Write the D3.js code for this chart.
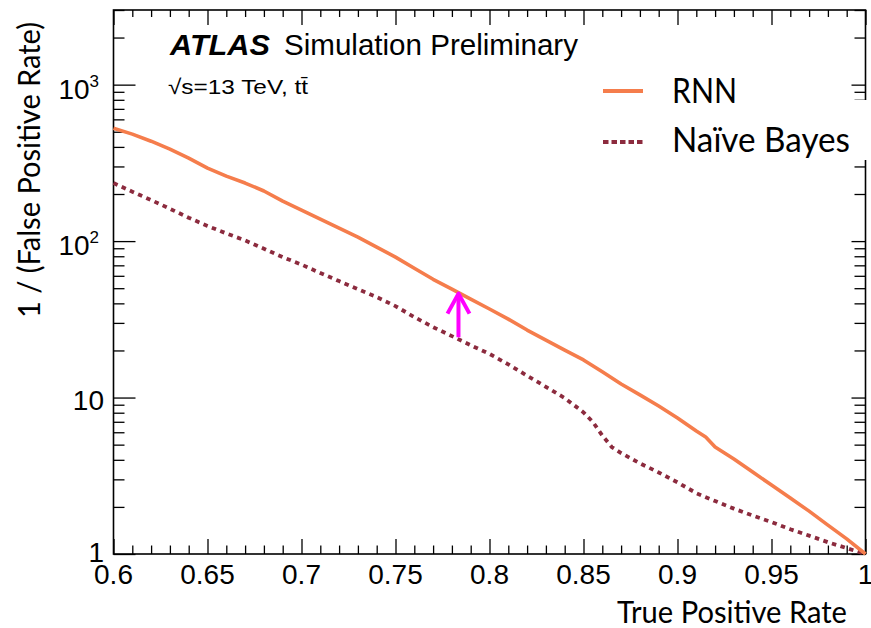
<!DOCTYPE html>
<html>
<head>
<meta charset="utf-8">
<script src="https://cdn.jsdelivr.net/npm/d3@7"></script>
<style>
  body { margin: 0; background: #fff; }
  svg { display: block; }
</style>
</head>
<body>
<svg id="chart" width="871" height="628"></svg>
<script>
// ROC-style comparison: background rejection (1 / FPR) versus signal efficiency (TPR)
const rnnTPR = [0.60, 0.61, 0.62, 0.63, 0.64, 0.65, 0.66, 0.67, 0.68, 0.69,
                0.70, 0.71, 0.72, 0.73, 0.74, 0.75, 0.76, 0.77, 0.78, 0.79,
                0.80, 0.81, 0.82, 0.83, 0.84, 0.85, 0.86, 0.87, 0.88, 0.89,
                0.90, 0.91, 0.915, 0.92, 0.925, 0.93, 0.94, 0.95, 0.96, 0.97,
                0.98, 0.99, 1.00];
const rnnRejection = [527, 483, 435, 387, 339, 293, 260, 235, 209, 180,
                      158, 138, 121, 106, 91.6, 79, 67, 57, 49.3, 42.6,
                      36.8, 31.7, 27.0, 23.3, 20.1, 17.4, 14.6, 12.2, 10.4, 8.83,
                      7.40, 6.11, 5.59, 4.83, 4.42, 4.05, 3.34, 2.76, 2.28, 1.88,
                      1.53, 1.25, 1.0];

const nbTPR = [0.60, 0.61, 0.62, 0.63, 0.64, 0.65, 0.66, 0.67, 0.68, 0.69,
               0.70, 0.71, 0.72, 0.73, 0.74, 0.75, 0.76, 0.77, 0.78, 0.79,
               0.80, 0.81, 0.82, 0.83, 0.84, 0.85, 0.855, 0.86, 0.865, 0.87,
               0.88, 0.89, 0.90, 0.91, 0.92, 0.93, 0.94, 0.95, 0.96, 0.97,
               0.98, 0.99, 1.00];
const nbRejection = [235, 207, 183, 161, 141, 125, 112, 101, 89.4, 79.0,
                     70.8, 62.5, 55.5, 49.3, 43.9, 38.4, 32.7, 28.2, 24.7, 21.6,
                     19.0, 16.3, 13.8, 11.7, 9.93, 8.04, 6.97, 5.72, 4.83, 4.42,
                     3.80, 3.32, 2.87, 2.45, 2.18, 1.95, 1.76, 1.60, 1.44, 1.31,
                     1.19, 1.09, 1.0];

const seriesNames = ["RNN", "Naïve Bayes"];
const xMajorTicks = [0.6, 0.65, 0.7, 0.75, 0.8, 0.85, 0.9, 0.95, 1.0];
const xTickLabels = ["0.6", "0.65", "0.7", "0.75", "0.8", "0.85", "0.9", "0.95", "1"];
const yMajorTicks = [1, 10, 100, 1000];
const yTickLabels = ["1", "10", "10^2", "10^3"];
const arrowTPR = 0.7835;

const svg = d3.select("#chart");
const x = d3.scaleLinear().domain([0.6, 1.0]).range([113.5, 865.5]);
const y = d3.scaleLog().domain([1, 3000]).range([554, 10]);

const [x0, x1] = x.range();
const [y0, y1] = y.range();

// minor ticks
const xMinorTicks = d3.range(60, 101).map(v => v / 100).filter(v => !xMajorTicks.some(m => Math.abs(m - v) < 1e-9));
const yMinorTicks = [];
for (let k = 0; k < 4; k++) for (let m = 2; m <= 9; m++) {
  const v = m * Math.pow(10, k);
  if (v <= 3000) yMinorTicks.push(v);
}

function tickLayer(axisFn, values, size, transform) {
  const g = svg.append("g").attr("transform", transform)
    .call(axisFn.tickValues(values).tickSize(size).tickFormat(""));
  g.select(".domain").remove();
  g.selectAll(".tick line").attr("stroke", "#000").attr("stroke-width", 1.3);
  g.selectAll(".tick text").remove();
  return g;
}

tickLayer(d3.axisBottom(x), xMinorTicks, -8.5, `translate(0,${y0})`);
tickLayer(d3.axisBottom(x), xMajorTicks, -15, `translate(0,${y0})`);
tickLayer(d3.axisTop(x), xMinorTicks, -7, `translate(0,${y1})`);
tickLayer(d3.axisTop(x), xMajorTicks, -15, `translate(0,${y1})`);
tickLayer(d3.axisLeft(y), yMinorTicks, -11, `translate(${x0},0)`);
tickLayer(d3.axisLeft(y), yMajorTicks, -22, `translate(${x0},0)`);
tickLayer(d3.axisRight(y), yMinorTicks, -11, `translate(${x1},0)`);
tickLayer(d3.axisRight(y), yMajorTicks, -14, `translate(${x1},0)`);

// frame
svg.append("rect")
  .attr("x", x0).attr("y", y1)
  .attr("width", x1 - x0).attr("height", y0 - y1)
  .attr("fill", "none").attr("stroke", "#000").attr("stroke-width", 1.6);

// tick labels
const tickFont = "'Liberation Sans', Arial, Helvetica, sans-serif";
svg.append("g").selectAll("text")
  .data(xMajorTicks)
  .join("text")
  .attr("x", d => x(d))
  .attr("y", 584)
  .attr("text-anchor", "middle")
  .attr("font-family", tickFont)
  .attr("font-size", 28)
  .attr("fill", "#000")
  .text((d, i) => xTickLabels[i]);

const yLab = svg.append("g").selectAll("text")
  .data(yMajorTicks)
  .join("text")
  .attr("font-family", tickFont)
  .attr("font-size", 28)
  .attr("fill", "#000")
  .attr("text-anchor", "end")
  .attr("x", (d, i) => yTickLabels[i].includes("^") ? 99 : 104)
  .attr("y", (d, i) => i === 0 ? y(d) + 8 : y(d) + (yTickLabels[i].includes("^") ? 14 : 12));
yLab.each(function (d, i) {
  const parts = yTickLabels[i].split("^");
  const t = d3.select(this);
  t.append("tspan").text(parts[0]);
  if (parts.length > 1) {
    t.append("tspan").attr("font-size", 17).attr("dy", -12).text(parts[1]);
  }
});

// curves
const line = d3.line().x(d => x(d[0])).y(d => y(d[1]));
const rnnPts = rnnTPR.map((t, i) => [t, rnnRejection[i]]);
const nbPts = nbTPR.map((t, i) => [t, nbRejection[i]]);

const rnnColor = "#f57d4c";
const nbColor = "#8c2b3e";

svg.append("path").datum(nbPts)
  .attr("d", line)
  .attr("fill", "none")
  .attr("stroke", nbColor)
  .attr("stroke-width", 3.8)
  .attr("stroke-dasharray", "4.5,4.5");

svg.append("path").datum(rnnPts)
  .attr("d", line)
  .attr("fill", "none")
  .attr("stroke", rnnColor)
  .attr("stroke-width", 3.6)
  .attr("stroke-linejoin", "round");

// ATLAS label
svg.append("text")
  .attr("x", 170).attr("y", 55)
  .attr("font-family", tickFont)
  .attr("font-size", 29)
  .attr("font-weight", "bold")
  .attr("font-style", "italic")
  .attr("textLength", 100)
  .attr("lengthAdjust", "spacingAndGlyphs")
  .text("ATLAS");
svg.append("text")
  .attr("x", 284).attr("y", 55)
  .attr("font-family", tickFont)
  .attr("font-size", 29)
  .attr("textLength", 294)
  .attr("lengthAdjust", "spacingAndGlyphs")
  .text("Simulation Preliminary");
svg.append("text")
  .attr("x", 168).attr("y", 94)
  .attr("font-family", tickFont)
  .attr("font-size", 21)
  .attr("textLength", 140)
  .attr("lengthAdjust", "spacingAndGlyphs")
  .text("√s=13 TeV, tt̄");

// axis titles
const titleFont = "Lato, 'Open Sans', sans-serif";
svg.append("text")
  .attr("transform", "translate(40,170) rotate(-90)")
  .attr("text-anchor", "middle")
  .attr("font-family", titleFont)
  .attr("font-size", 31)
  .attr("textLength", 296)
  .attr("lengthAdjust", "spacingAndGlyphs")
  .text("1 / (False Positive Rate)");
svg.append("text")
  .attr("x", 617).attr("y", 623)
  .attr("font-family", titleFont)
  .attr("font-size", 31)
  .attr("textLength", 230)
  .attr("lengthAdjust", "spacingAndGlyphs")
  .text("True Positive Rate");

// legend
svg.append("rect")
  .attr("x", 590).attr("y", 100).attr("width", 281).attr("height", 60)
  .attr("fill", "#fff");
const legend = svg.append("g");
const legendRows = [
  { name: seriesNames[0], color: rnnColor, dash: null, ly: 91, ty: 103, len: 65 },
  { name: seriesNames[1], color: nbColor, dash: "5.5,3", ly: 142, ty: 152, len: 178 }
];
legendRows.forEach(r => {
  legend.append("line")
    .attr("x1", 603).attr("x2", 643).attr("y1", r.ly).attr("y2", r.ly)
    .attr("stroke", r.color).attr("stroke-width", 4)
    .attr("stroke-dasharray", r.dash);
  legend.append("text")
    .attr("x", 672).attr("y", r.ty)
    .attr("font-family", titleFont)
    .attr("font-size", 35)
    .attr("textLength", r.len)
    .attr("lengthAdjust", "spacingAndGlyphs")
    .text(r.name);
});

// arrow marking the gain of the RNN over Naive Bayes at one working point
function interpLog(xs, ys, t) {
  const i = Math.max(1, d3.bisectLeft(xs, t));
  const f = (t - xs[i - 1]) / (xs[i] - xs[i - 1]);
  return Math.pow(10, Math.log10(ys[i - 1]) + f * (Math.log10(ys[i]) - Math.log10(ys[i - 1])));
}
const ax = x(arrowTPR);
const tipY = y(interpLog(rnnTPR, rnnRejection, arrowTPR));
const baseY = y(interpLog(nbTPR, nbRejection, arrowTPR)) - 2;
const arrow = svg.append("g")
  .attr("stroke", "#ff00ff").attr("stroke-width", 4).attr("fill", "none")
  .attr("stroke-linejoin", "round");
arrow.append("line").attr("x1", ax).attr("x2", ax).attr("y1", baseY).attr("y2", tipY + 2);
arrow.append("path")
  .attr("d", `M${ax - 11},${tipY + 21} L${ax},${tipY + 1} L${ax + 11},${tipY + 21}`);
</script>
</body>
</html>
